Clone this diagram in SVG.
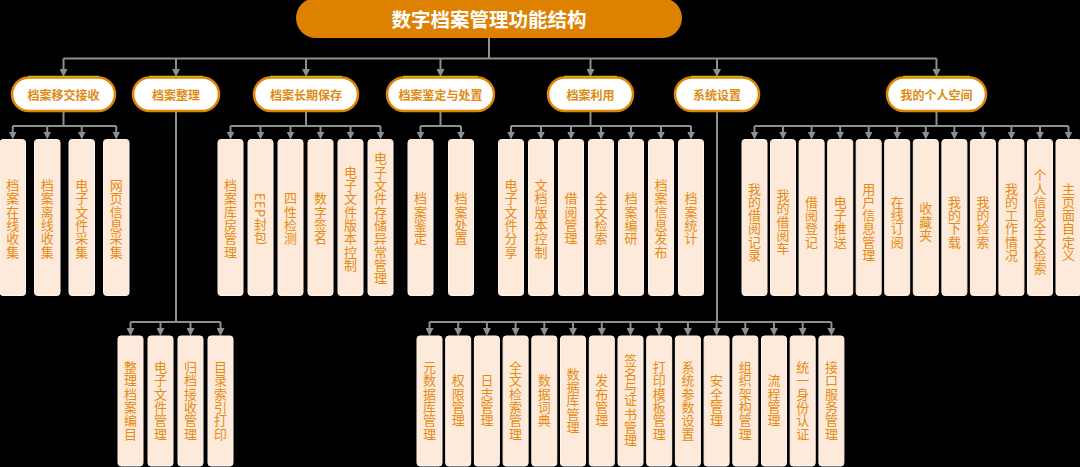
<svg xmlns="http://www.w3.org/2000/svg" width="1080" height="467" viewBox="0 0 1080 467">
<style>
.bg{fill:#000}
.title{fill:#de8100}
.title-t{fill:#fff;font:bold 19.5px "Noto Sans CJK SC","Noto Sans",sans-serif;text-anchor:middle;dominant-baseline:central}
.pill{fill:#fff;stroke:#e08500;stroke-width:2.5}
.hl{stroke:#cbbd00;stroke-width:1.5;fill:none}
.pill-t{fill:#e08a10;font:bold 12px "Noto Sans CJK SC","Noto Sans",sans-serif;text-anchor:middle;dominant-baseline:central}
.box{fill:#fdeadb;stroke:#fff4ec;stroke-width:1}
.box-t{fill:#e88a12;font:13px "Noto Sans CJK SC","Noto Sans",sans-serif;text-anchor:middle;writing-mode:vertical-rl;letter-spacing:0.3px}
.c{stroke:#8f8f8f;stroke-width:2;fill:none}
.a{stroke:#8f8f8f;stroke-width:2;fill:none;marker-end:url(#arr)}
</style>
<defs>
<marker id="arr" viewBox="0 0 8 8" refX="2" refY="4" markerWidth="8" markerHeight="8" markerUnits="userSpaceOnUse" orient="auto">
<path d="M0,0 L8,4 L0,8 z" fill="#8f8f8f"/>
</marker>
</defs>
<rect class="bg" x="0" y="0" width="1080" height="467"/>

<g id="connectors">
<path class="c" d="M489,38 V58.5 M63.5,58.5 H936.5"/>
<path class="a" d="M63.5,58.5 V71"/>
<path class="a" d="M176,58.5 V71"/>
<path class="a" d="M306,58.5 V71"/>
<path class="a" d="M440.5,58.5 V71"/>
<path class="a" d="M590.5,58.5 V71"/>
<path class="a" d="M717,58.5 V71"/>
<path class="a" d="M936.5,58.5 V71"/>
<!-- group 1 -->
<path class="c" d="M63.5,111 V126 M12.75,126 H116.25"/>
<path class="a" d="M12.75,126 V133.5"/><path class="a" d="M47.25,126 V133.5"/><path class="a" d="M81.75,126 V133.5"/><path class="a" d="M116.25,126 V133.5"/>
<!-- group 3 -->
<path class="c" d="M306,111 V126 M230.5,126 H380.5"/>
<path class="a" d="M230.5,126 V133.5"/><path class="a" d="M260.5,126 V133.5"/><path class="a" d="M290.5,126 V133.5"/><path class="a" d="M320.5,126 V133.5"/><path class="a" d="M350.5,126 V133.5"/><path class="a" d="M380.5,126 V133.5"/>
<!-- group 4 -->
<path class="c" d="M440.5,111 V126 M420.5,126 H461"/>
<path class="a" d="M420.5,126 V133.5"/><path class="a" d="M461,126 V133.5"/>
<!-- group 5 -->
<path class="c" d="M590.5,111 V126 M511,126 H691"/>
<path class="a" d="M511,126 V133.5"/><path class="a" d="M541,126 V133.5"/><path class="a" d="M571,126 V133.5"/><path class="a" d="M601,126 V133.5"/><path class="a" d="M631,126 V133.5"/><path class="a" d="M661,126 V133.5"/><path class="a" d="M691,126 V133.5"/>
<!-- group 7 -->
<path class="c" d="M936.5,111 V126 M754.5,126 H1068.5"/>
<path class="a" d="M754.5,126 V133.5"/><path class="a" d="M783,126 V133.5"/><path class="a" d="M811.6,126 V133.5"/><path class="a" d="M840.2,126 V133.5"/><path class="a" d="M868.7,126 V133.5"/><path class="a" d="M897.2,126 V133.5"/><path class="a" d="M925.8,126 V133.5"/><path class="a" d="M954.4,126 V133.5"/><path class="a" d="M982.9,126 V133.5"/><path class="a" d="M1011.4,126 V133.5"/><path class="a" d="M1040,126 V133.5"/><path class="a" d="M1068.5,126 V133.5"/>
<!-- group 2 bottom -->
<path class="c" d="M176,111 V322 M130.5,322 H220.5"/>
<path class="a" d="M130.5,322 V330"/><path class="a" d="M160.5,322 V330"/><path class="a" d="M190.5,322 V330"/><path class="a" d="M220.5,322 V330"/>
<!-- group 6 bottom -->
<path class="c" d="M717,111 V322 M429.5,322 H831.4"/>
<path class="a" d="M429.5,322 V330"/><path class="a" d="M458.2,322 V330"/><path class="a" d="M486.9,322 V330"/><path class="a" d="M515.6,322 V330"/><path class="a" d="M544.3,322 V330"/><path class="a" d="M573,322 V330"/><path class="a" d="M601.8,322 V330"/><path class="a" d="M630.5,322 V330"/><path class="a" d="M659.2,322 V330"/><path class="a" d="M687.9,322 V330"/><path class="a" d="M716.6,322 V330"/><path class="a" d="M745.3,322 V330"/><path class="a" d="M774,322 V330"/><path class="a" d="M802.7,322 V330"/><path class="a" d="M831.4,322 V330"/>
</g>

<g id="root">
<rect class="title" x="296" y="-2" width="386" height="40" rx="20"/>
<text class="title-t" x="489" y="18.5">数字档案管理功能结构</text>
</g>

<g id="n1"><rect class="pill" x="12" y="77.5" width="103" height="33.5" rx="16.75"/><line class="hl" x1="28" y1="76.5" x2="99" y2="76.5"/><text class="pill-t" x="63.5" y="94.5">档案移交接收</text></g>
<g id="n2"><rect class="pill" x="133" y="77.5" width="86" height="33.5" rx="16.75"/><line class="hl" x1="149" y1="76.5" x2="203" y2="76.5"/><text class="pill-t" x="176" y="94.5">档案整理</text></g>
<g id="n3"><rect class="pill" x="254" y="77.5" width="104" height="33.5" rx="16.75"/><line class="hl" x1="270" y1="76.5" x2="342" y2="76.5"/><text class="pill-t" x="306" y="94.5">档案长期保存</text></g>
<g id="n4"><rect class="pill" x="387" y="77.5" width="107" height="33.5" rx="16.75"/><line class="hl" x1="403" y1="76.5" x2="478" y2="76.5"/><text class="pill-t" x="440.5" y="94.5">档案鉴定与处置</text></g>
<g id="n5"><rect class="pill" x="548" y="77.5" width="85" height="33.5" rx="16.75"/><line class="hl" x1="564" y1="76.5" x2="617" y2="76.5"/><text class="pill-t" x="590.5" y="94.5">档案利用</text></g>
<g id="n6"><rect class="pill" x="675" y="77.5" width="84" height="33.5" rx="16.75"/><line class="hl" x1="691" y1="76.5" x2="743" y2="76.5"/><text class="pill-t" x="717" y="94.5">系统设置</text></g>
<g id="n7"><rect class="pill" x="887" y="77.5" width="99" height="33.5" rx="16.75"/><line class="hl" x1="903" y1="76.5" x2="970" y2="76.5"/><text class="pill-t" x="936.5" y="94.5">我的个人空间</text></g>

<!-- group 1 boxes -->
<g id="b1-1"><rect class="box" x="0" y="139.5" width="25.5" height="156" rx="3"/><text class="box-t" x="12.75" y="218.5">档案在线收集</text></g>
<g id="b1-2"><rect class="box" x="34.5" y="139.5" width="25.5" height="156" rx="3"/><text class="box-t" x="47.25" y="218.5">档案离线收集</text></g>
<g id="b1-3"><rect class="box" x="69" y="139.5" width="25.5" height="156" rx="3"/><text class="box-t" x="81.75" y="218.5">电子文件采集</text></g>
<g id="b1-4"><rect class="box" x="103.5" y="139.5" width="25.5" height="156" rx="3"/><text class="box-t" x="116.25" y="218.5">网页信息采集</text></g>

<!-- group 3 boxes -->
<g id="b3-1"><rect class="box" x="218" y="139.5" width="25" height="156" rx="3"/><text class="box-t" x="230.5" y="218.5">档案库房管理</text></g>
<g id="b3-2"><rect class="box" x="248" y="139.5" width="25" height="156" rx="3"/><text class="box-t" x="260.5" y="218.5">EEP封包</text></g>
<g id="b3-3"><rect class="box" x="278" y="139.5" width="25" height="156" rx="3"/><text class="box-t" x="290.5" y="218.5">四性检测</text></g>
<g id="b3-4"><rect class="box" x="308" y="139.5" width="25" height="156" rx="3"/><text class="box-t" x="320.5" y="218.5">数字签名</text></g>
<g id="b3-5"><rect class="box" x="338" y="139.5" width="25" height="156" rx="3"/><text class="box-t" x="350.5" y="218.5">电子文件版本控制</text></g>
<g id="b3-6"><rect class="box" x="368" y="139.5" width="25" height="156" rx="3"/><text class="box-t" x="380.5" y="218.5">电子文件存储异常管理</text></g>

<!-- group 4 boxes -->
<g id="b4-1"><rect class="box" x="408" y="139.5" width="25" height="156" rx="3"/><text class="box-t" x="420.5" y="218.5">档案鉴定</text></g>
<g id="b4-2"><rect class="box" x="448.5" y="139.5" width="25" height="156" rx="3"/><text class="box-t" x="461" y="218.5">档案处置</text></g>

<!-- group 5 boxes -->
<g id="b5-1"><rect class="box" x="498.5" y="139.5" width="25" height="156" rx="3"/><text class="box-t" x="511" y="218.5">电子文件分享</text></g>
<g id="b5-2"><rect class="box" x="528.5" y="139.5" width="25" height="156" rx="3"/><text class="box-t" x="541" y="218.5">文档版本控制</text></g>
<g id="b5-3"><rect class="box" x="558.5" y="139.5" width="25" height="156" rx="3"/><text class="box-t" x="571" y="218.5">借阅管理</text></g>
<g id="b5-4"><rect class="box" x="588.5" y="139.5" width="25" height="156" rx="3"/><text class="box-t" x="601" y="218.5">全文检索</text></g>
<g id="b5-5"><rect class="box" x="618.5" y="139.5" width="25" height="156" rx="3"/><text class="box-t" x="631" y="218.5">档案编研</text></g>
<g id="b5-6"><rect class="box" x="648.5" y="139.5" width="25" height="156" rx="3"/><text class="box-t" x="661" y="218.5">档案信息发布</text></g>
<g id="b5-7"><rect class="box" x="678.5" y="139.5" width="25" height="156" rx="3"/><text class="box-t" x="691" y="218.5">档案统计</text></g>

<!-- group 7 boxes -->
<g id="b7-1"><rect class="box" x="742" y="139.5" width="25" height="156" rx="3"/><text class="box-t" x="754.5" y="222">我的借阅记录</text></g>
<g id="b7-2"><rect class="box" x="770.5" y="139.5" width="25" height="156" rx="3"/><text class="box-t" x="783" y="222">我的借阅车</text></g>
<g id="b7-3"><rect class="box" x="799.1" y="139.5" width="25" height="156" rx="3"/><text class="box-t" x="811.6" y="222">借阅登记</text></g>
<g id="b7-4"><rect class="box" x="827.7" y="139.5" width="25" height="156" rx="3"/><text class="box-t" x="840.2" y="222">电子推送</text></g>
<g id="b7-5"><rect class="box" x="856.2" y="139.5" width="25" height="156" rx="3"/><text class="box-t" x="868.7" y="222">用户信息管理</text></g>
<g id="b7-6"><rect class="box" x="884.7" y="139.5" width="25" height="156" rx="3"/><text class="box-t" x="897.2" y="222">在线订阅</text></g>
<g id="b7-7"><rect class="box" x="913.3" y="139.5" width="25" height="156" rx="3"/><text class="box-t" x="925.8" y="222">收藏夹</text></g>
<g id="b7-8"><rect class="box" x="941.9" y="139.5" width="25" height="156" rx="3"/><text class="box-t" x="954.4" y="222">我的下载</text></g>
<g id="b7-9"><rect class="box" x="970.4" y="139.5" width="25" height="156" rx="3"/><text class="box-t" x="982.9" y="222">我的检索</text></g>
<g id="b7-10"><rect class="box" x="998.9" y="139.5" width="25" height="156" rx="3"/><text class="box-t" x="1011.4" y="222">我的工作情况</text></g>
<g id="b7-11"><rect class="box" x="1027.5" y="139.5" width="25" height="156" rx="3"/><text class="box-t" x="1040" y="222">个人信息全文检索</text></g>
<g id="b7-12"><rect class="box" x="1056" y="139.5" width="25" height="156" rx="3"/><text class="box-t" x="1068.5" y="222">主页面自定义</text></g>

<!-- group 2 bottom boxes -->
<g id="b2-1"><rect class="box" x="118" y="336" width="25" height="130" rx="3"/><text class="box-t" x="130.5" y="400.5">整理档案编目</text></g>
<g id="b2-2"><rect class="box" x="148" y="336" width="25" height="130" rx="3"/><text class="box-t" x="160.5" y="400.5">电子文件管理</text></g>
<g id="b2-3"><rect class="box" x="178" y="336" width="25" height="130" rx="3"/><text class="box-t" x="190.5" y="400.5">归档接收管理</text></g>
<g id="b2-4"><rect class="box" x="208" y="336" width="25" height="130" rx="3"/><text class="box-t" x="220.5" y="400.5">目录索引打印</text></g>

<!-- group 6 bottom boxes -->
<g id="b6-1"><rect class="box" x="417" y="336" width="25" height="130" rx="3"/><text class="box-t" x="429.5" y="400.5">元数据库管理</text></g>
<g id="b6-2"><rect class="box" x="445.7" y="336" width="25" height="130" rx="3"/><text class="box-t" x="458.2" y="400.5">权限管理</text></g>
<g id="b6-3"><rect class="box" x="474.4" y="336" width="25" height="130" rx="3"/><text class="box-t" x="486.9" y="400.5">日志管理</text></g>
<g id="b6-4"><rect class="box" x="503.1" y="336" width="25" height="130" rx="3"/><text class="box-t" x="515.6" y="400.5">全文检索管理</text></g>
<g id="b6-5"><rect class="box" x="531.8" y="336" width="25" height="130" rx="3"/><text class="box-t" x="544.3" y="400.5">数据词典</text></g>
<g id="b6-6"><rect class="box" x="560.5" y="336" width="25" height="130" rx="3"/><text class="box-t" x="573" y="400.5">数据库管理</text></g>
<g id="b6-7"><rect class="box" x="589.3" y="336" width="25" height="130" rx="3"/><text class="box-t" x="601.8" y="400.5">发布管理</text></g>
<g id="b6-8"><rect class="box" x="618" y="336" width="25" height="130" rx="3"/><text class="box-t" x="630.5" y="400.5">签名与证书管理</text></g>
<g id="b6-9"><rect class="box" x="646.7" y="336" width="25" height="130" rx="3"/><text class="box-t" x="659.2" y="400.5">打印模板管理</text></g>
<g id="b6-10"><rect class="box" x="675.4" y="336" width="25" height="130" rx="3"/><text class="box-t" x="687.9" y="400.5">系统参数设置</text></g>
<g id="b6-11"><rect class="box" x="704.1" y="336" width="25" height="130" rx="3"/><text class="box-t" x="716.6" y="400.5">安全管理</text></g>
<g id="b6-12"><rect class="box" x="732.8" y="336" width="25" height="130" rx="3"/><text class="box-t" x="745.3" y="400.5">组织架构管理</text></g>
<g id="b6-13"><rect class="box" x="761.5" y="336" width="25" height="130" rx="3"/><text class="box-t" x="774" y="400.5">流程管理</text></g>
<g id="b6-14"><rect class="box" x="790.2" y="336" width="25" height="130" rx="3"/><text class="box-t" x="802.7" y="400.5">统一身份认证</text></g>
<g id="b6-15"><rect class="box" x="818.9" y="336" width="25" height="130" rx="3"/><text class="box-t" x="831.4" y="400.5">接口服务管理</text></g>
</svg>
